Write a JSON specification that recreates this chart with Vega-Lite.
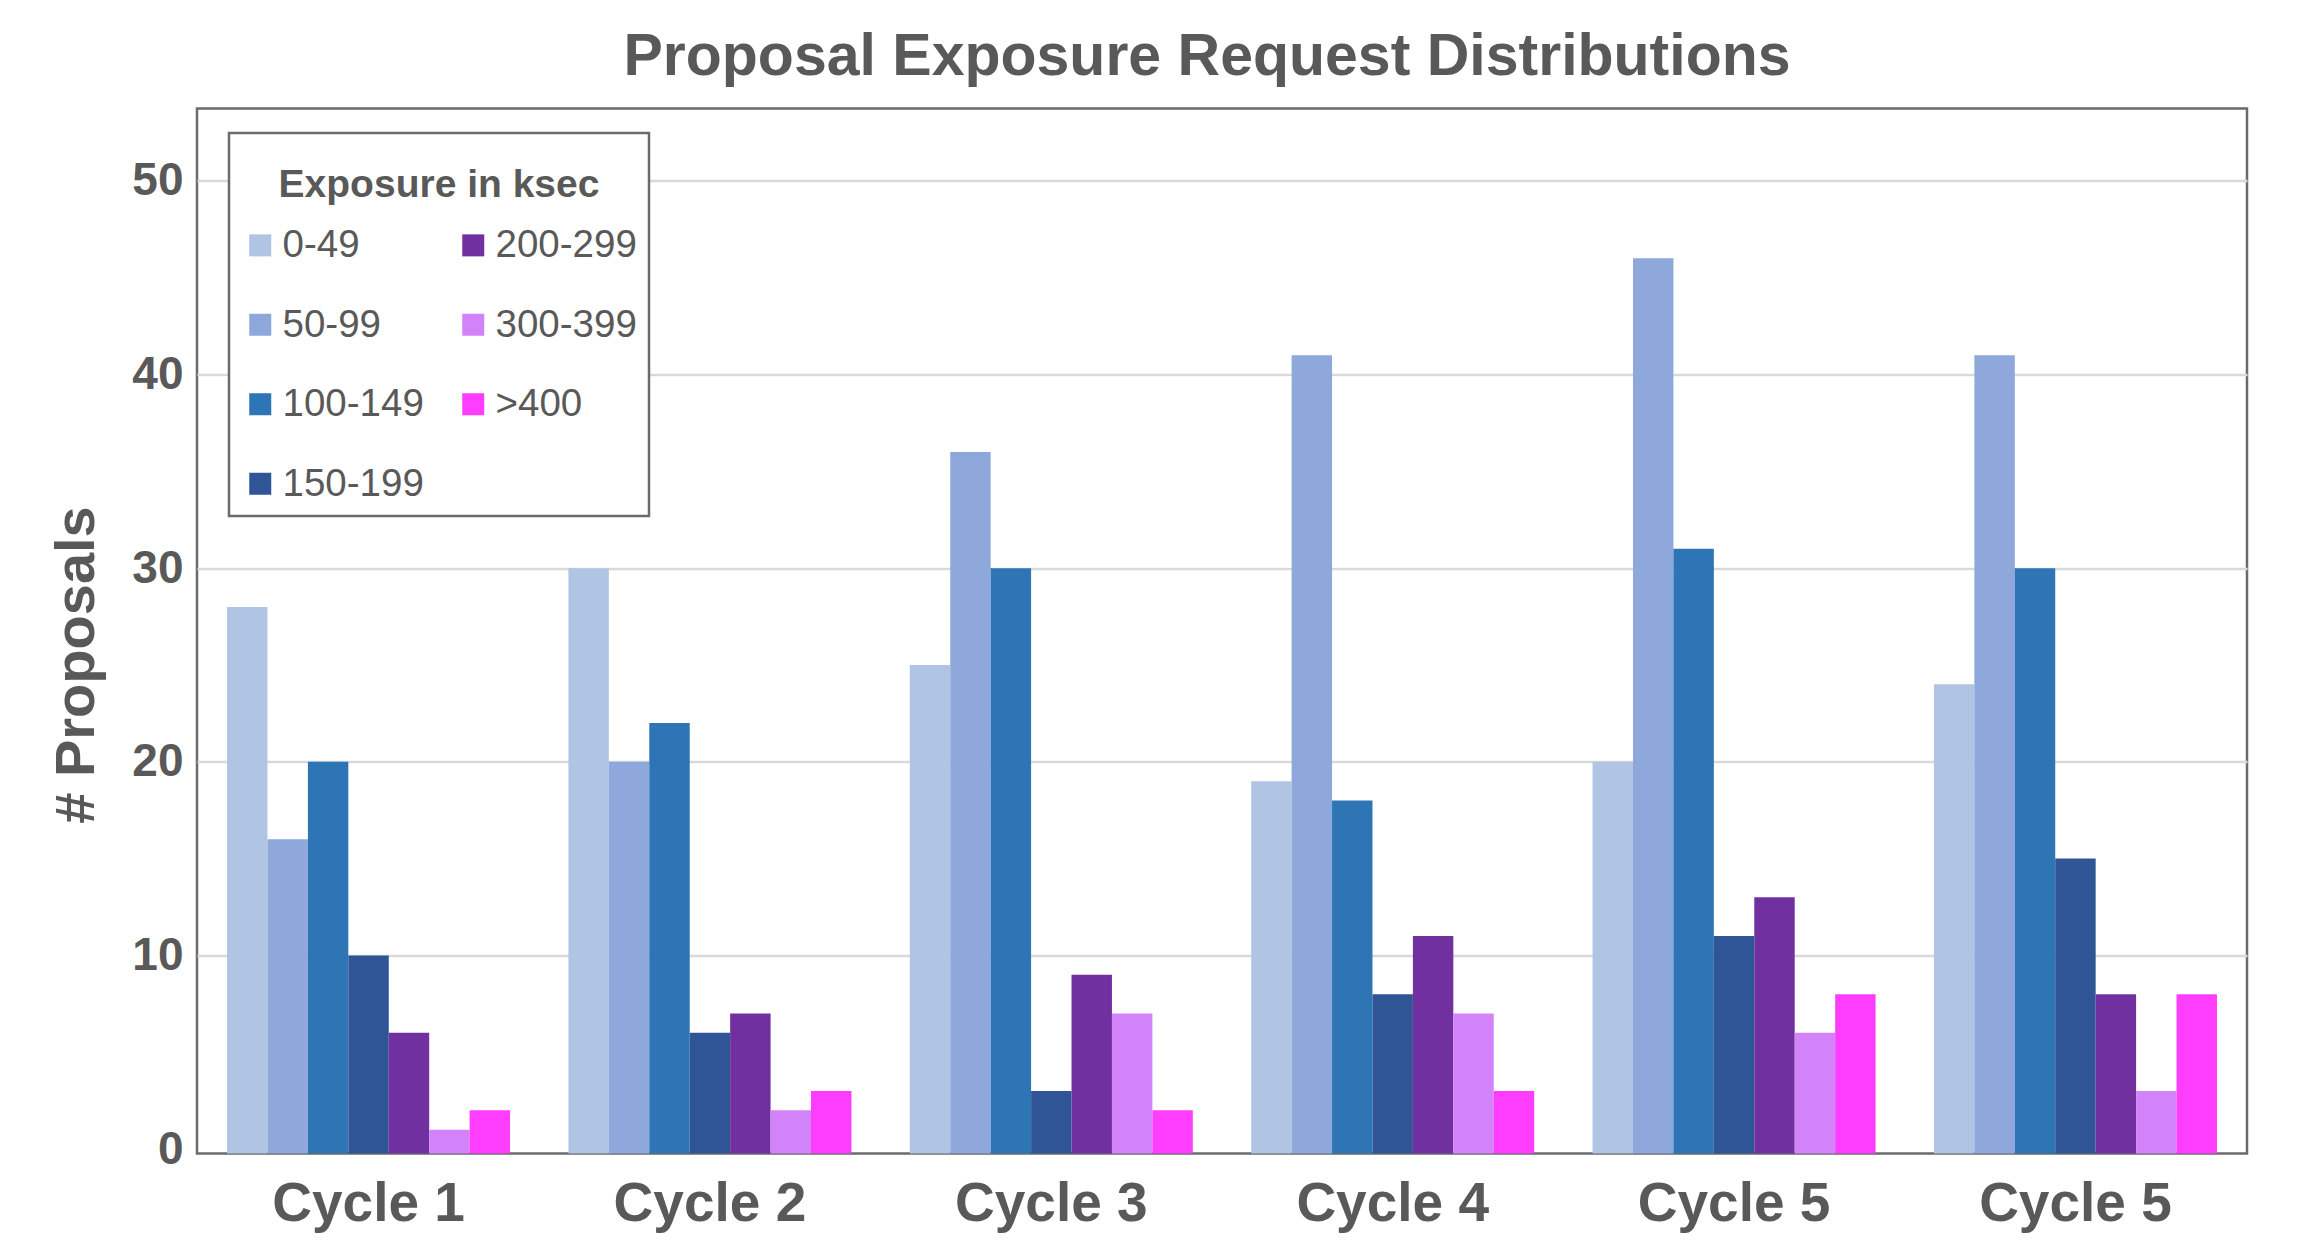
{
  "$schema": "https://vega.github.io/schema/vega-lite/v6.json",
  "autosize": {"type": "none"},
  "padding": {"left": 197, "top": 108.5, "right": 59, "bottom": 96.5},
  "width": 2050,
  "height": 1045,
  "background": "white",
  "title": {
    "text": "Proposal Exposure Request Distributions",
    "fontSize": 59,
    "fontWeight": "bold",
    "color": "#595959",
    "font": "Liberation Sans",
    "offset": 22,
    "dx": -15
  },
  "data": {
    "values": [
      {"cycle": "Cycle 1", "range": "0-49", "proposals": 28},
      {"cycle": "Cycle 1", "range": "50-99", "proposals": 16},
      {"cycle": "Cycle 1", "range": "100-149", "proposals": 20},
      {"cycle": "Cycle 1", "range": "150-199", "proposals": 10},
      {"cycle": "Cycle 1", "range": "200-299", "proposals": 6},
      {"cycle": "Cycle 1", "range": "300-399", "proposals": 1},
      {"cycle": "Cycle 1", "range": ">400", "proposals": 2},
      {"cycle": "Cycle 2", "range": "0-49", "proposals": 30},
      {"cycle": "Cycle 2", "range": "50-99", "proposals": 20},
      {"cycle": "Cycle 2", "range": "100-149", "proposals": 22},
      {"cycle": "Cycle 2", "range": "150-199", "proposals": 6},
      {"cycle": "Cycle 2", "range": "200-299", "proposals": 7},
      {"cycle": "Cycle 2", "range": "300-399", "proposals": 2},
      {"cycle": "Cycle 2", "range": ">400", "proposals": 3},
      {"cycle": "Cycle 3", "range": "0-49", "proposals": 25},
      {"cycle": "Cycle 3", "range": "50-99", "proposals": 36},
      {"cycle": "Cycle 3", "range": "100-149", "proposals": 30},
      {"cycle": "Cycle 3", "range": "150-199", "proposals": 3},
      {"cycle": "Cycle 3", "range": "200-299", "proposals": 9},
      {"cycle": "Cycle 3", "range": "300-399", "proposals": 7},
      {"cycle": "Cycle 3", "range": ">400", "proposals": 2},
      {"cycle": "Cycle 4", "range": "0-49", "proposals": 19},
      {"cycle": "Cycle 4", "range": "50-99", "proposals": 41},
      {"cycle": "Cycle 4", "range": "100-149", "proposals": 18},
      {"cycle": "Cycle 4", "range": "150-199", "proposals": 8},
      {"cycle": "Cycle 4", "range": "200-299", "proposals": 11},
      {"cycle": "Cycle 4", "range": "300-399", "proposals": 7},
      {"cycle": "Cycle 4", "range": ">400", "proposals": 3},
      {"cycle": "Cycle 5", "range": "0-49", "proposals": 20},
      {"cycle": "Cycle 5", "range": "50-99", "proposals": 46},
      {"cycle": "Cycle 5", "range": "100-149", "proposals": 31},
      {"cycle": "Cycle 5", "range": "150-199", "proposals": 11},
      {"cycle": "Cycle 5", "range": "200-299", "proposals": 13},
      {"cycle": "Cycle 5", "range": "300-399", "proposals": 6},
      {"cycle": "Cycle 5", "range": ">400", "proposals": 8},
      {"cycle": "Cycle 5 ", "range": "0-49", "proposals": 24},
      {"cycle": "Cycle 5 ", "range": "50-99", "proposals": 41},
      {"cycle": "Cycle 5 ", "range": "100-149", "proposals": 30},
      {"cycle": "Cycle 5 ", "range": "150-199", "proposals": 15},
      {"cycle": "Cycle 5 ", "range": "200-299", "proposals": 8},
      {"cycle": "Cycle 5 ", "range": "300-399", "proposals": 3},
      {"cycle": "Cycle 5 ", "range": ">400", "proposals": 8}
    ]
  },
  "mark": {"type": "bar"},
  "encoding": {
    "x": {
      "field": "cycle",
      "type": "nominal",
      "sort": ["Cycle 1", "Cycle 2", "Cycle 3", "Cycle 4", "Cycle 5", "Cycle 5 "],
      "scale": {"paddingInner": 0.171, "paddingOuter": 0.088},
      "axis": {
        "title": null,
        "labelAngle": 0,
        "labelExpr": "trim(datum.label)",
        "labelLimit": 0,
        "labelFontSize": 55,
        "labelFontWeight": "bold",
        "labelColor": "#595959",
        "labelPadding": 24,
        "ticks": false,
        "domain": false,
        "grid": false
      }
    },
    "xOffset": {
      "field": "range",
      "type": "nominal",
      "sort": ["0-49", "50-99", "100-149", "150-199", "200-299", "300-399", ">400"],
      "scale": {"paddingInner": 0, "paddingOuter": 0}
    },
    "y": {
      "field": "proposals",
      "type": "quantitative",
      "scale": {"domain": [-0.23, 53.74], "nice": false, "zero": false},
      "axis": {
        "title": "# Proposals",
        "titleFontSize": 56,
        "titleFontWeight": "bold",
        "titleColor": "#595959",
        "titlePadding": 26,
        "titleY": 556,
        "titleLimit": 0,
        "values": [0, 10, 20, 30, 40, 50],
        "labelFontSize": 46,
        "labelFontWeight": "bold",
        "labelColor": "#595959",
        "labelPadding": 14,
        "ticks": false,
        "domain": false,
        "gridColor": "#d9d9d9",
        "gridWidth": 2.5,
        "gridOpacity": {"condition": {"test": "datum.value === 0", "value": 0}, "value": 1}
      }
    },
    "y2": {"datum": -0.23},
    "color": {
      "field": "range",
      "type": "nominal",
      "scale": {
        "domain": ["0-49", "50-99", "100-149", "150-199", "200-299", "300-399", ">400"],
        "range": ["#B0C5E4", "#8EA8DC", "#2E75B6", "#2F5597", "#7030A0", "#D383F9", "#FF3DFF"]
      },
      "legend": {
        "orient": "none",
        "legendX": 32,
        "legendY": 24.5,
        "columns": 2,
        "title": "Exposure in ksec",
        "titleFontSize": 39,
        "titleFontWeight": "bold",
        "titleColor": "#595959",
        "titleAnchor": "middle",
        "titlePadding": 42,
        "titleLimit": 0,
        "labelFontSize": 38.5,
        "labelColor": "#595959",
        "labelOffset": 3,
        "labelLimit": 0,
        "symbolType": "square",
        "symbolSize": 484,
        "symbolStrokeWidth": 0,
        "symbolOpacity": 1,
        "rowPadding": 40.5,
        "columnPadding": 30,
        "padding": 12,
        "strokeColor": "#6b6b6b",
        "fillColor": "white",
        "encode": {
          "legend": {"update": {"strokeWidth": {"value": 2.5}}},
          "title": {"update": {"dy": {"value": 21}}}
        }
      }
    }
  },
  "config": {
    "font": "Liberation Sans",
    "view": {"stroke": "#6b6b6b", "strokeWidth": 2.5}
  }
}
